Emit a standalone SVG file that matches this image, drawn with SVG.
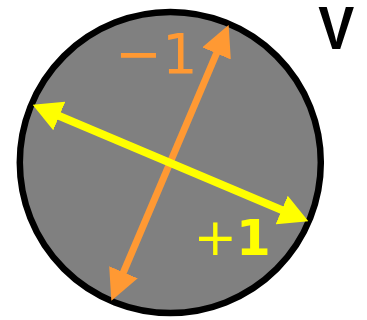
<svg xmlns="http://www.w3.org/2000/svg" width="367" height="320" viewBox="0 0 367 320">
<defs>
<style>
.ball{fill:#808080;stroke:#000;stroke-width:6.5}
.orange{stroke:#ff9933;stroke-width:7;fill:none}
.yellow{stroke:#ffff00;stroke-width:8;fill:none}
.lbl{font-family:"DejaVu Sans",sans-serif}
</style>
<marker id="hO" markerUnits="userSpaceOnUse" viewBox="0 0 31 31" markerWidth="31" markerHeight="31" refX="1" refY="15.5" orient="auto-start-reverse">
<path d="M0,0 L31,15.5 L0,31 Z" fill="#ff9933"/>
</marker>
<marker id="hY" markerUnits="userSpaceOnUse" viewBox="0 0 29 31" markerWidth="29" markerHeight="31" refX="1" refY="15.5" orient="auto-start-reverse">
<path d="M0,0 L29,15.5 L0,31 Z" fill="#ffff00"/>
</marker>
</defs>
<g id="sphere">
<circle class="ball" cx="170.3" cy="162.5" r="150.5"/>
</g>
<g id="connectors">
<line class="orange" x1="123.1" y1="273.2" x2="216.9" y2="52.5" marker-start="url(#hO)" marker-end="url(#hO)"/>
<line class="yellow" x1="58.4" y1="115.6" x2="282.6" y2="210.4" marker-start="url(#hY)" marker-end="url(#hY)"/>
</g>
<g id="label-minus">
<text class="lbl" x="115" y="73.3" font-size="56" fill="#ff9933">−1</text>
</g>
<g id="label-plus">
<text class="lbl" x="193.5" y="255" font-size="52" fill="#ffff00">+</text>
<text class="lbl" x="236" y="255" font-size="50" font-weight="bold" fill="#ffff00">1</text>
</g>
<g id="label-V">
<text x="318.3" y="49.3" font-family="Liberation Sans, Arial, sans-serif" font-weight="bold" font-size="61" textLength="36" lengthAdjust="spacingAndGlyphs" fill="#000">V</text>
</g>
</svg>
